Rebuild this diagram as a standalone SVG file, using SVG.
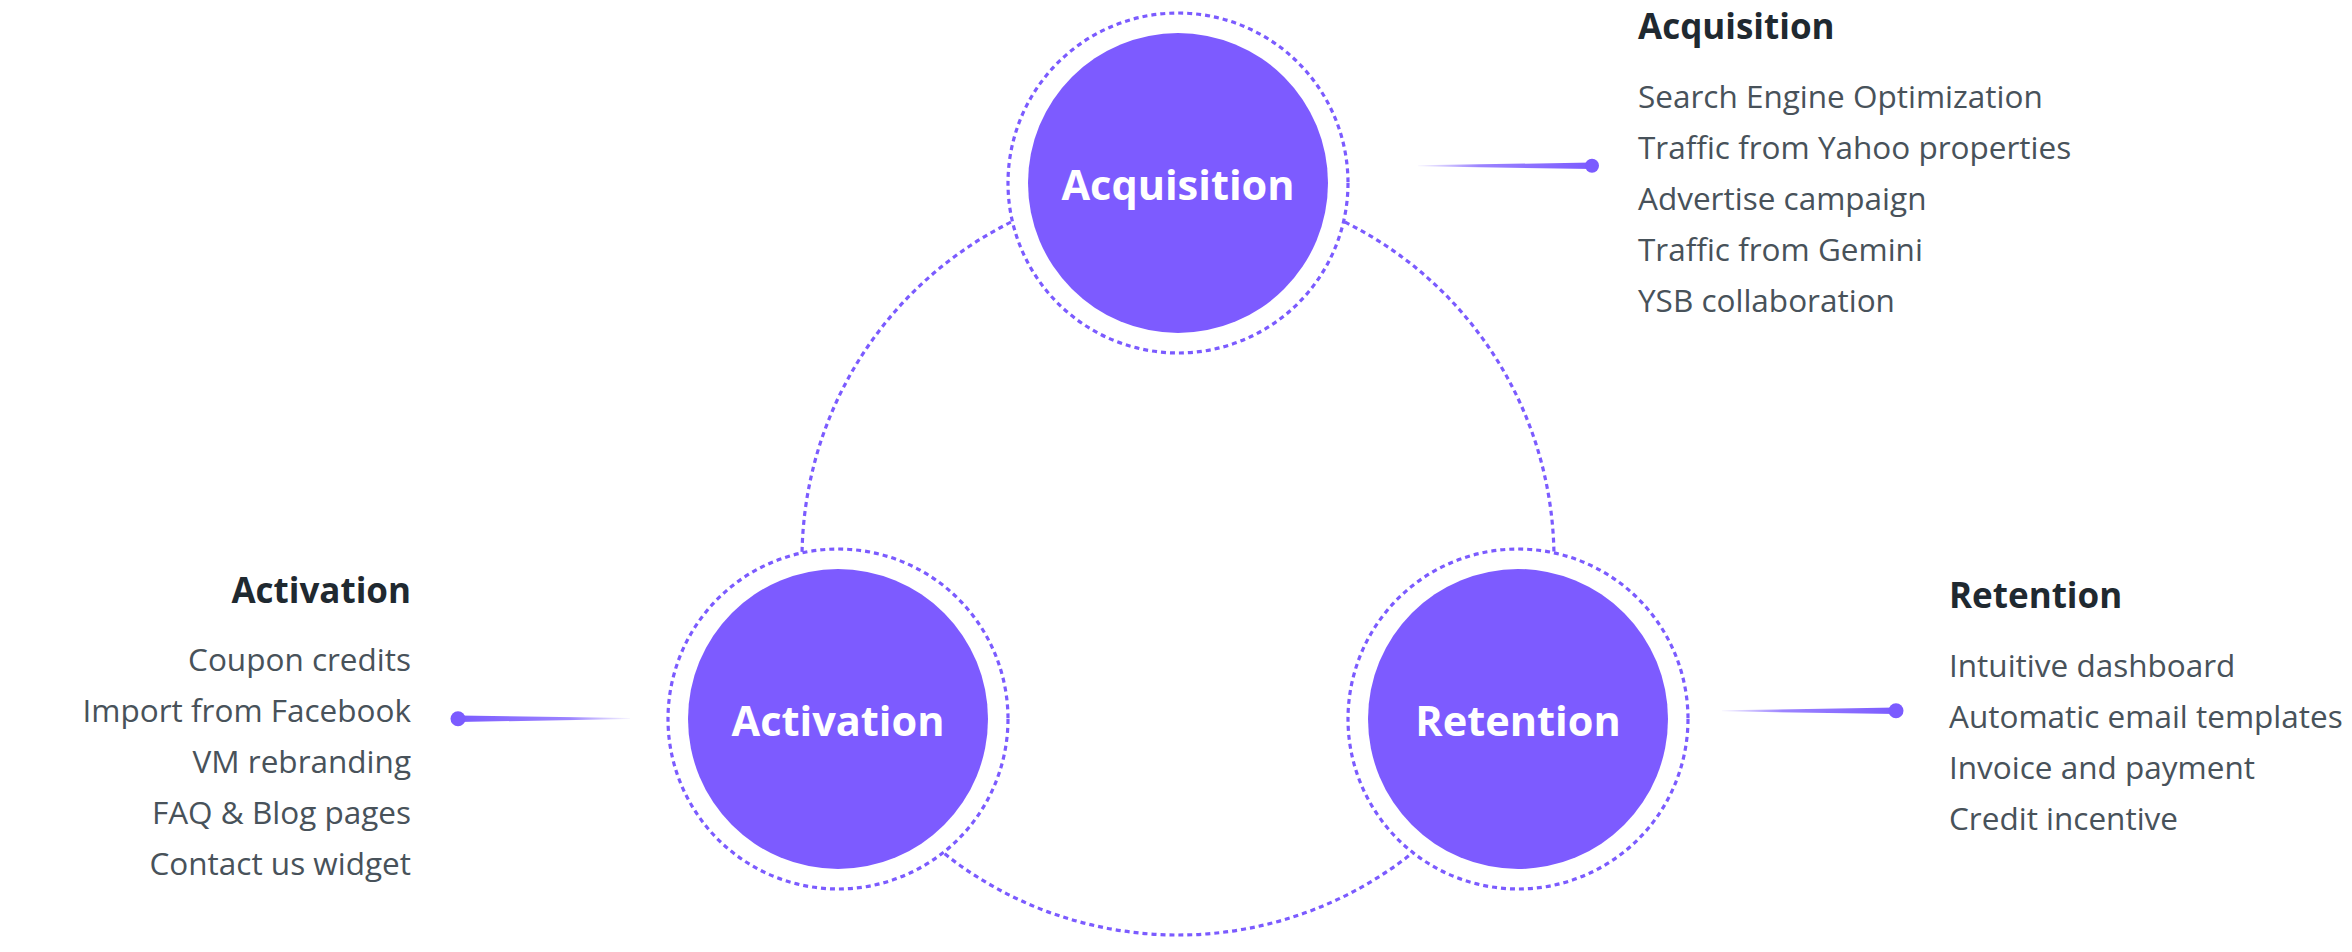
<svg xmlns="http://www.w3.org/2000/svg" width="2352" height="952" viewBox="0 0 2352 952">
  <defs>
    <style>
      .ring { fill: #ffffff; stroke: #7B5BFF; stroke-width: 3.2; stroke-dasharray: 5 4; }
      .orbit { fill: none; stroke: #7B5BFF; stroke-width: 3.2; stroke-dasharray: 5 4; }
      .core { fill: #7D5BFF; }
      .label { font-family: "Open Sans", "Noto Sans", sans-serif; font-weight: 700; font-size: 41.5px; fill: #ffffff; text-anchor: middle; }
      .head { font-family: "Open Sans", "Noto Sans", sans-serif; font-weight: 700; font-size: 35px; fill: #1F2930; }
      .item { font-family: "Open Sans", "Noto Sans", sans-serif; font-weight: 400; font-size: 31.5px; fill: #48525A; }
      .dot { fill: #7B5BFF; }
    </style>
    <linearGradient id="fadeR" x1="0" y1="0" x2="1" y2="0">
      <stop offset="0" stop-color="#7B5BFF" stop-opacity="0.05"/>
      <stop offset="0.35" stop-color="#7B5BFF" stop-opacity="0.75"/>
      <stop offset="1" stop-color="#7B5BFF" stop-opacity="1"/>
    </linearGradient>
    <linearGradient id="fadeL" x1="1" y1="0" x2="0" y2="0">
      <stop offset="0" stop-color="#7B5BFF" stop-opacity="0.05"/>
      <stop offset="0.35" stop-color="#7B5BFF" stop-opacity="0.75"/>
      <stop offset="1" stop-color="#7B5BFF" stop-opacity="1"/>
    </linearGradient>
  </defs>
  <rect width="2352" height="952" fill="#ffffff"/>

  <g id="connectors">
    <circle class="orbit" cx="1178" cy="559" r="376"/>
    <g id="acq-pointer">
      <polygon points="1418,165.3 1592,162.6 1592,169 1418,166.3" fill="url(#fadeR)"/>
      <circle class="dot" cx="1592" cy="165.8" r="7"/>
    </g>
    <g id="act-pointer">
      <polygon points="630,718 458,715.6 458,722 630,719" fill="url(#fadeL)"/>
      <circle class="dot" cx="458" cy="718.8" r="7.5"/>
    </g>
    <g id="ret-pointer">
      <polygon points="1722,710.3 1896,707.6 1896,714 1722,711.3" fill="url(#fadeR)"/>
      <circle class="dot" cx="1896" cy="710.8" r="7.5"/>
    </g>
  </g>

  <g id="node-acquisition">
    <circle class="ring" cx="1178" cy="183" r="170"/>
    <circle class="core" cx="1178" cy="183" r="150"/>
    <text class="label" x="1178" y="200">Acquisition</text>
  </g>
  <g id="node-activation">
    <circle class="ring" cx="838" cy="719" r="170"/>
    <circle class="core" cx="838" cy="719" r="150"/>
    <text class="label" x="838" y="736">Activation</text>
  </g>
  <g id="node-retention">
    <circle class="ring" cx="1518" cy="719" r="170"/>
    <circle class="core" cx="1518" cy="719" r="150"/>
    <text class="label" x="1518" y="736">Retention</text>
  </g>

  <g id="list-acquisition">
    <text class="head" x="1638" y="39">Acquisition</text>
    <text class="item" x="1638" y="108">Search Engine Optimization</text>
    <text class="item" x="1638" y="159">Traffic from Yahoo properties</text>
    <text class="item" x="1638" y="210">Advertise campaign</text>
    <text class="item" x="1638" y="261">Traffic from Gemini</text>
    <text class="item" x="1638" y="312">YSB collaboration</text>
  </g>
  <g id="list-activation" text-anchor="end">
    <text class="head" x="411" y="603">Activation</text>
    <text class="item" x="411" y="671">Coupon credits</text>
    <text class="item" x="411" y="722">Import from Facebook</text>
    <text class="item" x="411" y="773">VM rebranding</text>
    <text class="item" x="411" y="824">FAQ &amp; Blog pages</text>
    <text class="item" x="411" y="875">Contact us widget</text>
  </g>
  <g id="list-retention">
    <text class="head" x="1949" y="608">Retention</text>
    <text class="item" x="1949" y="677">Intuitive dashboard</text>
    <text class="item" x="1949" y="728">Automatic email templates</text>
    <text class="item" x="1949" y="779">Invoice and payment</text>
    <text class="item" x="1949" y="830">Credit incentive</text>
  </g>
</svg>
